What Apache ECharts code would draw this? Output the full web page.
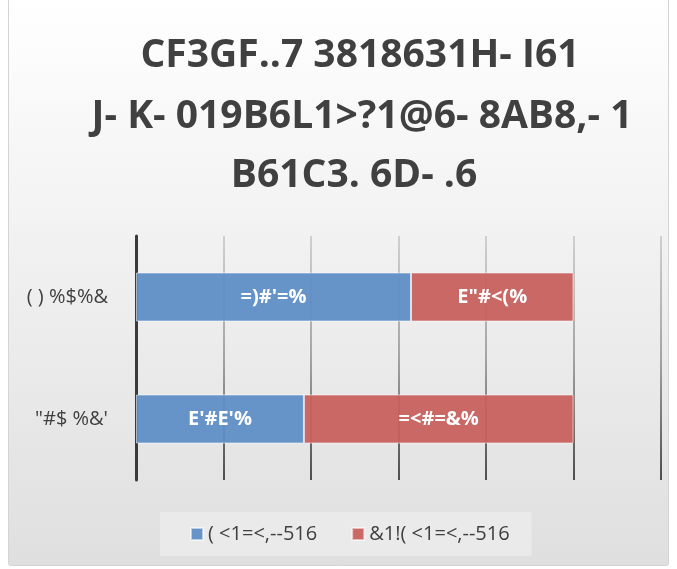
<!DOCTYPE html>
<html>
<head>
<meta charset="utf-8">
<script src="https://cdn.jsdelivr.net/npm/echarts@6/dist/echarts.min.js"></script>
<style>
  html, body { margin: 0; padding: 0; background: #ffffff; }
  #chart { width: 677px; height: 569px; }
</style>
</head>
<body>
<div id="chart"></div>
<script>
// Title lines, stacked top to bottom
const titleLines = ['CF3GF..7 3818631H- I61', 'J- K- 019B6L1>?1@6- 8AB8,- 1', 'B61C3. 6D- .6'];

// Categories listed from top to bottom
const categories = ['( ) %$%&', '"#$ %&\''];

// Series names as shown in the legend
const seriesNames = ['( <1=<,--516', '&1!( <1=<,--516'];

// Share of each category (percent)
const firstValues = [62.86, 38.38];
const secondValues = [37.14, 61.62];

// Value labels printed inside each segment
const firstLabels = ['=)#\'=%', 'E\'#E\'%'];
const secondLabels = ['E"#<(%', '=<#=&%'];

// Value axis ticks (percent)
const axisMin = 0, axisMax = 120, axisStep = 20;

const chart = echarts.init(document.getElementById('chart'), null, { renderer: 'canvas' });

const titleFont = { fontFamily: 'Open Sans', fontWeight: 'bold', fontSize: 39, color: '#404040' };
const titleCenters = [360, 362, 354];
const titleTops = [36, 97, 156];

const labelStyle = {
  show: true,
  position: 'inside',
  color: '#ffffff',
  fontFamily: 'Open Sans',
  fontWeight: 'bold',
  fontSize: 20
};

chart.setOption({
  animation: false,
  backgroundColor: 'transparent',
  graphic: [{
    type: 'rect',
    z: -10,
    silent: true,
    shape: { x: 8.5, y: -4, width: 660, height: 569.5, r: 2 },
    style: {
      fill: {
        type: 'linear', x: 0, y: 0, x2: 0, y2: 1,
        colorStops: [{ offset: 0, color: '#ffffff' }, { offset: 1, color: '#dfdfdf' }]
      },
      stroke: '#d4d4d4',
      lineWidth: 1
    }
  }],
  title: titleLines.map((t, i) => ({
    text: t,
    left: titleCenters[i],
    top: titleTops[i],
    textAlign: 'center',
    padding: 0,
    textStyle: titleFont
  })),
  legend: {
    data: seriesNames,
    left: 160,
    top: 512,
    padding: [12, 22, 12, 30],
    backgroundColor: 'rgba(240,240,240,0.6)',
    itemWidth: 12,
    itemHeight: 12,
    itemGap: 34,
    icon: 'rect',
    textStyle: { fontFamily: 'Open Sans', fontSize: 20, color: '#404040' }
  },
  grid: { left: 136, right: 16, top: 236, bottom: 89, containLabel: false },
  xAxis: {
    type: 'value',
    min: axisMin,
    max: axisMax,
    interval: axisStep,
    axisLabel: { show: false },
    axisTick: { show: false },
    axisLine: { show: false },
    splitLine: {
      show: true,
      lineStyle: {
        width: 1.5,
        color: {
          type: 'linear', x: 0, y: 236, x2: 0, y2: 480, global: true,
          colorStops: [
            { offset: 0, color: '#c4c4c4' },
            { offset: 0.5, color: '#8c8c8c' },
            { offset: 1, color: '#1c1c1c' }
          ]
        }
      }
    }
  },
  yAxis: {
    type: 'category',
    data: categories,
    inverse: true,
    axisTick: { show: false },
    axisLine: { show: true, lineStyle: { color: '#3a3a3a', width: 3 } },
    axisLabel: { margin: 28, fontFamily: 'Open Sans', fontSize: 20, color: '#404040' }
  },
  series: [
    {
      name: seriesNames[0],
      type: 'bar',
      stack: 'share',
      barWidth: 49,
      data: firstValues,
      itemStyle: { color: 'rgba(95,142,198,0.94)', borderColor: 'rgba(255,255,255,0.55)', borderWidth: 1 },
      label: Object.assign({}, labelStyle, { formatter: p => firstLabels[p.dataIndex] })
    },
    {
      name: seriesNames[1],
      type: 'bar',
      stack: 'share',
      barWidth: 49,
      data: secondValues,
      itemStyle: { color: 'rgba(199,96,92,0.94)', borderColor: 'rgba(255,255,255,0.55)', borderWidth: 1 },
      label: Object.assign({}, labelStyle, { formatter: p => secondLabels[p.dataIndex] })
    }
  ]
});
</script>
</body>
</html>
